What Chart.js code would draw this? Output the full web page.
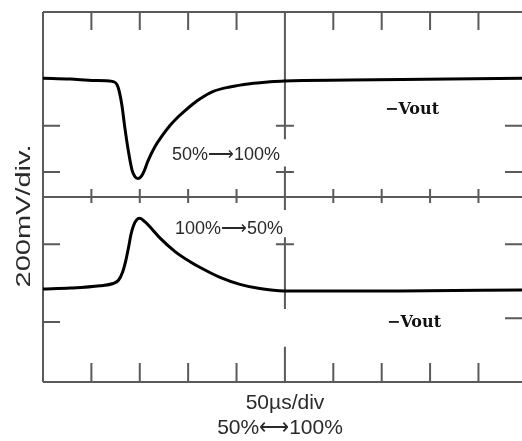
<!DOCTYPE html>
<html>
<head>
<meta charset="utf-8">
<script src="https://cdn.jsdelivr.net/npm/chart.js@4.4.0/dist/chart.umd.min.js"></script>
<style>
  body { margin: 0; background: #fff; }
  #wrap { width: 522px; height: 441px; position: relative; }
</style>
</head>
<body>
<div id="wrap"><canvas id="scope"></canvas></div>
<script>
// time in divisions (50us/div), voltage in divisions (200mV/div)
const timeUpper = [0, 0.56, 1.07, 1.43, 1.55, 1.63, 1.69, 1.76, 1.84, 1.90, 1.96, 2.02, 2.09, 2.17, 2.31, 2.46, 2.62, 2.79, 2.95, 3.10, 3.24, 3.51, 3.86, 4.28, 4.69, 4.98, 6.34, 8.41, 9.9];
const voltUpper = [6.57, 6.55, 6.52, 6.50, 6.38, 5.99, 5.51, 5.02, 4.58, 4.44, 4.40, 4.43, 4.56, 4.78, 5.08, 5.32, 5.54, 5.73, 5.88, 6.01, 6.12, 6.28, 6.38, 6.45, 6.49, 6.51, 6.53, 6.55, 6.57];

const timeLower = [0, 0.56, 1.18, 1.45, 1.56, 1.64, 1.71, 1.77, 1.82, 1.87, 1.93, 2.00, 2.11, 2.25, 2.42, 2.73, 3.04, 3.24, 3.66, 4.07, 4.48, 4.98, 7.38, 9.9];
const voltLower = [2.01, 2.03, 2.08, 2.13, 2.20, 2.36, 2.62, 2.92, 3.20, 3.38, 3.50, 3.54, 3.46, 3.31, 3.11, 2.82, 2.60, 2.48, 2.26, 2.11, 2.02, 1.97, 1.97, 1.99];

// graticule
const divTicks = [1, 2, 3, 4, 6, 7, 8, 9];
const leftTicks = [5.54, 4.54, 2.98, 1.30];
const rightTicks = [5.54, 4.54, 2.98, 1.38];
const centerTicks = [5.54, 4.54, 2.98];
const centerSegments = [[8, 5.25], [4.66, 3.72], [3.13, 1.58], [0.76, 0]];

const upperLabel = "50%\u27F6100%";
const lowerLabel = "100%\u27F650%";
const traceLabel = "\u2212Vout";
const yTitle = "200mV/div.";
const xTitle = ["50\u00B5s/div", "50%\u27F7100%"];

function toPoints(xs, ys) {
  const pts = [];
  for (let i = 0; i < xs.length; i++) {
    pts.push({ x: xs[i], y: ys[i] });
  }
  return pts;
}

//draws the scope frame, tick marks and texts
const graticule = {
  id: "graticule",
  beforeDatasetsDraw(chart) {
    const ctx = chart.ctx;
    const xs = chart.scales.x;
    const ys = chart.scales.y;
    const a = chart.chartArea;
    const X = (v) => xs.getPixelForValue(v);
    const Y = (v) => ys.getPixelForValue(v);

    ctx.save();
    ctx.strokeStyle = "#5a5a5a";
    ctx.lineWidth = 2;
    ctx.beginPath();
    // frame
    ctx.moveTo(a.left, a.top); ctx.lineTo(a.right, a.top);
    ctx.moveTo(a.left, a.top); ctx.lineTo(a.left, a.bottom);
    ctx.moveTo(a.left, a.bottom); ctx.lineTo(a.right, a.bottom);
    ctx.moveTo(a.left, Y(4)); ctx.lineTo(a.right, Y(4));
    // center vertical line
    for (const seg of centerSegments) {
      ctx.moveTo(X(5), Y(seg[0])); ctx.lineTo(X(5), Y(seg[1]));
    }
    // ticks on top, middle and bottom
    for (const t of divTicks) {
      ctx.moveTo(X(t), a.top); ctx.lineTo(X(t), a.top + 18);
      ctx.moveTo(X(t), Y(4) - 8); ctx.lineTo(X(t), Y(4) + 6);
      ctx.moveTo(X(t), a.bottom); ctx.lineTo(X(t), a.bottom - 19);
    }
    for (const t of leftTicks) {
      ctx.moveTo(a.left, Y(t)); ctx.lineTo(a.left + 17, Y(t));
    }
    for (const t of rightTicks) {
      ctx.moveTo(a.right - 17, Y(t)); ctx.lineTo(a.right, Y(t));
    }
    for (const t of centerTicks) {
      ctx.moveTo(X(5) - 9, Y(t)); ctx.lineTo(X(5) + 9, Y(t));
    }
    ctx.stroke();
    ctx.restore();
  },
  afterDraw(chart) {
    const ctx = chart.ctx;

    ctx.save();
    ctx.fillStyle = "#2a2a2a";
    ctx.textBaseline = "middle";
    ctx.textAlign = "left";
    ctx.font = "18px 'Liberation Sans', Arial, sans-serif";
    ctx.fillText(upperLabel, 172, 155);
    ctx.fillText(lowerLabel, 175, 229);

    ctx.font = "bold 16px 'DejaVu Serif', serif";
    ctx.fillStyle = "#111";
    ctx.fillText(traceLabel, 385, 110);
    ctx.fillText(traceLabel, 387, 323);

    ctx.fillStyle = "#2a2a2a";
    ctx.textAlign = "center";
    ctx.font = "21px 'Liberation Sans', Arial, sans-serif";
    ctx.fillText(xTitle[0], 285, 403);
    ctx.font = "21px 'Liberation Sans', Arial, sans-serif";
    ctx.fillText(xTitle[1], 280, 428);

    ctx.translate(24, 216);
    ctx.rotate(-Math.PI / 2);
    ctx.scale(1.45, 1);
    ctx.font = "20px 'Liberation Sans', Arial, sans-serif";
    ctx.fillText(yTitle, 0, 0);
    ctx.restore();
  },
};

function renderScope() {
  const ctx = document.getElementById("scope").getContext("2d");
  const chart = new Chart(ctx, {
    type: "line",
    data: {
      datasets: [
        {
          label: "50% to 100%",
          data: toPoints(timeUpper, voltUpper),
          borderColor: "#000",
          borderWidth: 3,
          pointRadius: 0,
          cubicInterpolationMode: "monotone",
        },
        {
          label: "100% to 50%",
          data: toPoints(timeLower, voltLower),
          borderColor: "#000",
          borderWidth: 3,
          pointRadius: 0,
          cubicInterpolationMode: "monotone",
        },
      ],
    },
    options: {
      responsive: true,
      maintainAspectRatio: false,
      animation: false,
      layout: { padding: { left: 43, top: 12, right: 0, bottom: 59 } },
      plugins: { legend: { display: false }, tooltip: { enabled: false } },
      scales: {
        x: { type: "linear", min: 0, max: 9.9, display: false },
        y: { type: "linear", min: 0, max: 8, display: false },
      },
    },
    plugins: [graticule],
  });
}

renderScope();
</script>
</body>
</html>
